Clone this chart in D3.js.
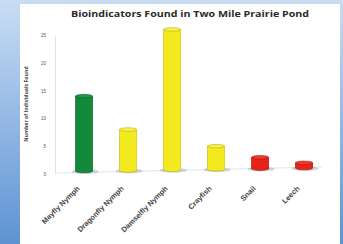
<!DOCTYPE html>
<html>
<head>
<meta charset="utf-8">
<script src="https://cdn.jsdelivr.net/npm/d3@7"></script>
<style>
  body { margin: 0; background: #fff; }
  svg { display: block; font-family: "Open Sans", "Liberation Sans", sans-serif; }
</style>
</head>
<body>
<script>
// Bioindicators bar chart (3D-ish cylinders)

var categories = ["Mayfly Nymph", "Dragonfly Nymph", "Damselfly Nymph", "Crayfish", "Snail", "Leech"];
var counts = [14, 8, 26, 5, 3, 2];
var tolerance = ["low", "mid", "mid", "mid", "high", "high"];
var yTicks = [0, 5, 10, 15, 20, 25];

var w = 343, h = 244;

var colors = {
    low:  {body: "#15893b", dark: "#0b5f27", top: "#1c9a46"},
    mid:  {body: "#f2ea1e", dark: "#b8ad10", top: "#f7f04a"},
    high: {body: "#e8231b", dark: "#a9140f", top: "#f03a30"}
};

var svg = d3.select("body").append("svg")
    .attr("width", w)
    .attr("height", h);

// background gradient like slide border
var defs = svg.append("defs");
var bg = defs.append("linearGradient")
    .attr("id", "bg")
    .attr("x1", 0).attr("y1", 0).attr("x2", 0).attr("y2", 1);
bg.append("stop").attr("offset", "0%").attr("stop-color", "#c9ddf4");
bg.append("stop").attr("offset", "100%").attr("stop-color", "#5d93d2");

svg.append("rect")
    .attr("width", w)
    .attr("height", h)
    .attr("fill", "url(#bg)");

svg.append("rect")
    .attr("x", 20)
    .attr("y", 4)
    .attr("width", 320)
    .attr("height", 240)
    .attr("fill", "#ffffff");

// scales
var x = d3.scaleBand()
    .domain(categories)
    .range([66.7, 321.5])
    .paddingInner(0.61)
    .paddingOuter(0.2);

var y = d3.scaleLinear()
    .domain([0, 25])
    .range([174, 35]);

// title
svg.append("text")
    .attr("x", 190)
    .attr("y", 17)
    .attr("text-anchor", "middle")
    .attr("font-size", 8.5)
    .attr("font-weight", "bold")
    .attr("fill", "#2a2a2a")
    .attr("textLength", 238)
    .attr("lengthAdjust", "spacingAndGlyphs")
    .text("Bioindicators Found in Two Mile Prairie Pond");

// y axis
var yAxis = d3.axisLeft(y)
    .tickValues(yTicks)
    .tickSize(0)
    .tickPadding(9);

var gy = svg.append("g")
    .attr("transform", "translate(55,0)")
    .call(yAxis);
gy.select(".domain")
    .attr("stroke", "#dcdcdc")
    .attr("stroke-width", 0.8);
gy.selectAll("text")
    .attr("font-size", 4.5)
    .attr("fill", "#555");

svg.append("text")
    .attr("transform", "translate(28,104) rotate(-90)")
    .attr("text-anchor", "middle")
    .attr("font-size", 5.2)
    .attr("font-weight", "bold")
    .attr("fill", "#444")
    .text("Number of Individuals Found");

// floor
svg.append("line")
    .attr("x1", 55).attr("y1", y(0) - 1)
    .attr("x2", 322).attr("y2", y(0) - 7)
    .attr("stroke", "#d8ecec")
    .attr("stroke-width", 1);

// bars as cylinders
var bw = x.bandwidth();
var bars = svg.append("g").selectAll("g")
    .data(categories)
    .enter()
    .append("g");

function baseY(i) {
    return y(0) - 3 - i * 0.6;
}

// shadow at base
bars.append("ellipse")
    .attr("cx", function(d) { return x(d) + bw / 2 + 1; })
    .attr("cy", function(d, i) { return baseY(i) + 0.5; })
    .attr("rx", bw / 2 + 5)
    .attr("ry", 2.5)
    .attr("fill", "#9aa4b4")
    .attr("opacity", 0.45);

bars.append("rect")
    .attr("x", function(d) { return x(d); })
    .attr("y", function(d, i) { return y(counts[i]); })
    .attr("width", bw)
    .attr("height", function(d, i) { return baseY(i) - y(counts[i]); })
    .attr("fill", function(d, i) { return colors[tolerance[i]].body; })
    .attr("stroke", function(d, i) { return colors[tolerance[i]].dark; })
    .attr("stroke-width", 0.6);

bars.append("ellipse")
    .attr("cx", function(d) { return x(d) + bw / 2; })
    .attr("cy", function(d, i) { return baseY(i); })
    .attr("rx", bw / 2)
    .attr("ry", 1.8)
    .attr("fill", function(d, i) { return colors[tolerance[i]].body; })
    .attr("stroke", function(d, i) { return colors[tolerance[i]].dark; })
    .attr("stroke-width", 0.6);

bars.append("rect")
    .attr("x", function(d) { return x(d) + 0.3; })
    .attr("y", function(d, i) { return y(counts[i]); })
    .attr("width", bw - 0.6)
    .attr("height", function(d, i) { return baseY(i) - y(counts[i]); })
    .attr("fill", function(d, i) { return colors[tolerance[i]].body; });

bars.append("ellipse")
    .attr("cx", function(d) { return x(d) + bw / 2; })
    .attr("cy", function(d, i) { return y(counts[i]); })
    .attr("rx", bw / 2)
    .attr("ry", 1.8)
    .attr("fill", function(d, i) { return colors[tolerance[i]].top; })
    .attr("stroke", function(d, i) { return colors[tolerance[i]].dark; })
    .attr("stroke-width", 0.6);

// x labels, rotated
var xAxis = d3.axisBottom(x)
    .tickSize(0)
    .tickPadding(0);

var gx = svg.append("g")
    .attr("transform", "translate(0,187)")
    .call(xAxis);
gx.select(".domain").remove();
gx.selectAll("text")
    .attr("font-size", 7.4)
    .attr("font-weight", "bold")
    .attr("fill", "#444")
    .attr("text-anchor", "end")
    .attr("dy", 0)
    .attr("transform", "translate(-4,2) rotate(-45)");
</script>
</body>
</html>
